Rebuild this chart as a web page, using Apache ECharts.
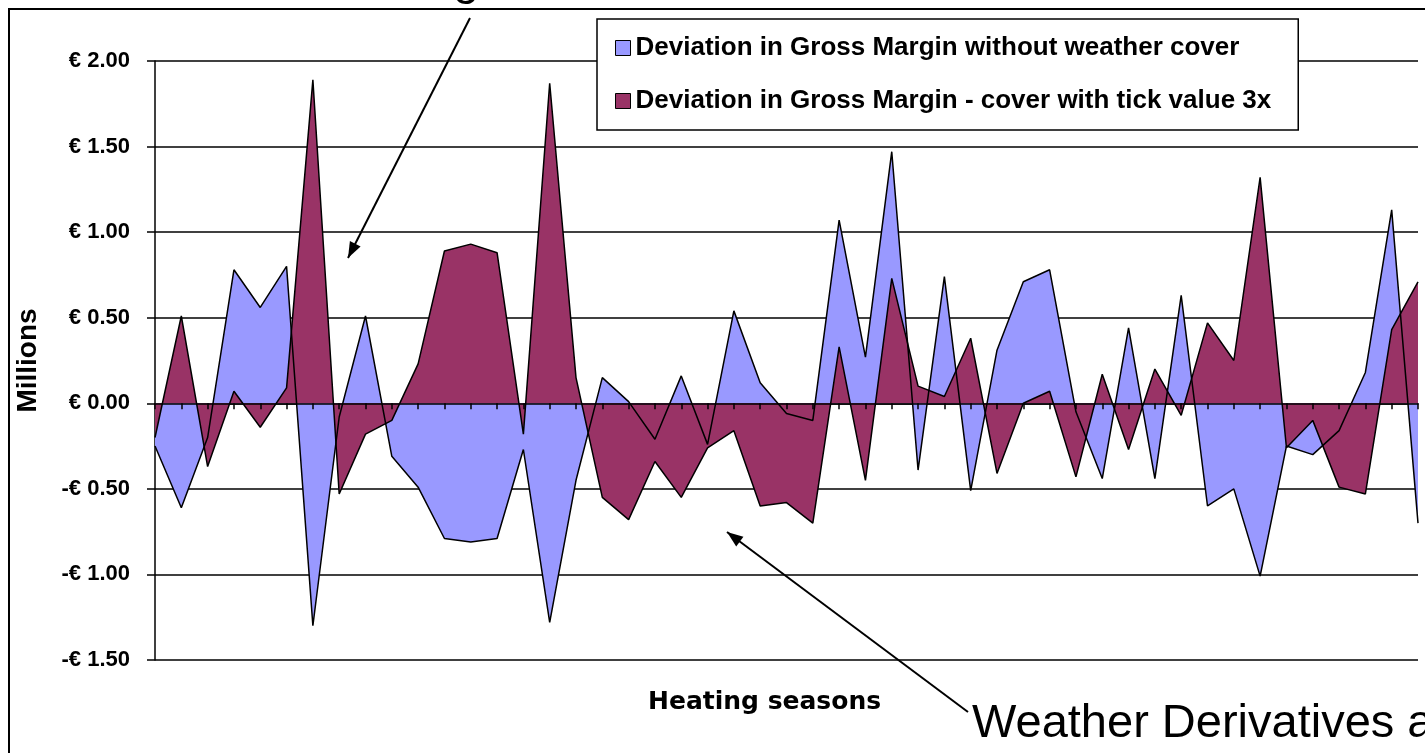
<!DOCTYPE html>
<html>
<head>
<meta charset="utf-8">
<script src="https://cdn.jsdelivr.net/npm/echarts@6/dist/echarts.min.js"></script>
<style>
  html, body { margin: 0; padding: 0; background: #fff; }
  #chart { width: 1425px; height: 753px; }
</style>
</head>
<body>
<div id="chart"></div>
<script>
// heating seasons (no labels shown on the axis)
const seasons = [1, 2, 3, 4, 5, 6, 7, 8, 9, 10, 11, 12, 13, 14, 15, 16, 17, 18, 19, 20,
  21, 22, 23, 24, 25, 26, 27, 28, 29, 30, 31, 32, 33, 34, 35, 36, 37, 38, 39, 40,
  41, 42, 43, 44, 45, 46, 47, 48, 49];

// deviation in gross margin, millions of euro
const noCover = [-0.25, -0.61, -0.20, 0.78, 0.56, 0.80, -1.30, -0.08, 0.51, -0.31,
  -0.49, -0.79, -0.81, -0.79, -0.27, -1.28, -0.45, 0.15, 0.01, -0.21,
  0.16, -0.24, 0.54, 0.12, -0.06, -0.10, 1.07, 0.27, 1.47, -0.39,
  0.74, -0.51, 0.31, 0.71, 0.78, -0.05, -0.44, 0.44, -0.44, 0.63,
  -0.60, -0.50, -1.01, -0.25, -0.30, -0.16, 0.18, 1.13, -0.70];

const tickCover = [-0.20, 0.51, -0.37, 0.07, -0.14, 0.09, 1.89, -0.53, -0.18, -0.10,
  0.23, 0.89, 0.93, 0.88, -0.18, 1.87, 0.15, -0.55, -0.68, -0.34,
  -0.55, -0.26, -0.16, -0.60, -0.58, -0.70, 0.33, -0.45, 0.73, 0.10,
  0.04, 0.38, -0.41, 0.00, 0.07, -0.43, 0.17, -0.27, 0.20, -0.07,
  0.47, 0.25, 1.32, -0.26, -0.10, -0.49, -0.53, 0.43, 0.71];

const seriesNames = [
  'Deviation in Gross Margin without weather cover',
  'Deviation in Gross Margin - cover with tick value 3x'
];

function arrowHead(x1, y1, x2, y2) {
  const len = Math.hypot(x2 - x1, y2 - y1);
  const ux = (x2 - x1) / len, uy = (y2 - y1) / len;
  const bx = x2 - ux * 16, by = y2 - uy * 16;
  return [[x2, y2], [bx - uy * 6, by + ux * 6], [bx + uy * 6, by - ux * 6]];
}

const chart = echarts.init(document.getElementById('chart'));

const option = {
  animation: false,
  backgroundColor: '#fff',
  grid: { left: 155, top: 61, right: 7, bottom: 93 },
  legend: {
    data: seriesNames,
    orient: 'vertical',
    left: 597,
    top: 19,
    icon: 'rect',
    itemWidth: 15,
    itemHeight: 15,
    itemGap: 27,
    padding: [16, 27, 16, 18],
    backgroundColor: '#fff',
    borderColor: '#000',
    borderWidth: 1.5,
    selectedMode: false,
    itemStyle: { borderColor: '#000', borderWidth: 1 },
    textStyle: { color: '#000', fontSize: 26, fontWeight: 'bold', fontFamily: 'Liberation Sans' }
  },
  xAxis: {
    type: 'category',
    data: seasons,
    boundaryGap: false,
    z: 5,
    axisLine: { onZero: true, lineStyle: { color: '#000', width: 1.5 } },
    axisTick: { show: true, interval: 0, length: 6, lineStyle: { color: '#000', width: 1.5 } },
    axisLabel: { show: false },
    splitLine: { show: false }
  },
  yAxis: {
    type: 'value',
    min: -1.5,
    max: 2,
    interval: 0.5,
    name: 'Millions',
    nameLocation: 'middle',
    nameRotate: 90,
    nameGap: 113,
    nameTextStyle: { color: '#000', fontSize: 28, fontWeight: 'bold', fontFamily: 'Liberation Sans' },
    axisLine: { show: true, lineStyle: { color: '#000', width: 1.5 } },
    axisTick: { show: true, length: 8, lineStyle: { color: '#000', width: 1.5 } },
    axisLabel: {
      margin: 25,
      color: '#000',
      fontSize: 22,
      fontWeight: 'bold',
      fontFamily: 'Liberation Sans',
      formatter: v => (v < 0 ? '-€ ' : '€ ') + Math.abs(v).toFixed(2)
    },
    splitLine: { lineStyle: { color: '#000', width: 1.5 } }
  },
  series: [
    {
      name: seriesNames[0],
      type: 'line',
      data: noCover,
      symbol: 'none',
      itemStyle: { color: '#9999FF' },
      lineStyle: { color: '#000', width: 1.5 },
      areaStyle: { color: '#9999FF', opacity: 1 }
    },
    {
      name: seriesNames[1],
      type: 'line',
      data: tickCover,
      symbol: 'none',
      itemStyle: { color: '#993366' },
      lineStyle: { color: '#000', width: 1.5 },
      areaStyle: { color: '#993366', opacity: 1 }
    }
  ],
  graphic: [
    { type: 'rect', silent: true, shape: { x: 9, y: 9, width: 1600, height: 900 },
      style: { fill: 'none', stroke: '#000', lineWidth: 2 } },
    { type: 'text', silent: true, x: 453, y: -19,
      style: { text: 'g', fontSize: 47, fontFamily: 'Liberation Sans', fill: '#000',
        textAlign: 'left', textVerticalAlign: 'middle' } },
    { type: 'line', silent: true, shape: { x1: 470, y1: 18, x2: 348, y2: 258 },
      style: { stroke: '#000', lineWidth: 2 } },
    { type: 'polygon', silent: true, shape: { points: arrowHead(470, 18, 348, 258) },
      style: { fill: '#000' } },
    { type: 'line', silent: true, shape: { x1: 968, y1: 712, x2: 727, y2: 532 },
      style: { stroke: '#000', lineWidth: 2 } },
    { type: 'polygon', silent: true, shape: { points: arrowHead(968, 712, 727, 532) },
      style: { fill: '#000' } },
    { type: 'text', silent: true, x: 972, y: 724,
      style: { text: 'Weather Derivatives a', fontSize: 47, fontFamily: 'Liberation Sans', fill: '#000',
        textAlign: 'left', textVerticalAlign: 'middle' } },
    { type: 'text', silent: true, x: 648, y: 702,
      style: { text: 'Heating seasons', fontSize: 25, fontWeight: 'bold', fontFamily: 'DejaVu Sans',
        fill: '#000', textAlign: 'left', textVerticalAlign: 'middle' } }
  ]
};

chart.setOption(option);
</script>
</body>
</html>
